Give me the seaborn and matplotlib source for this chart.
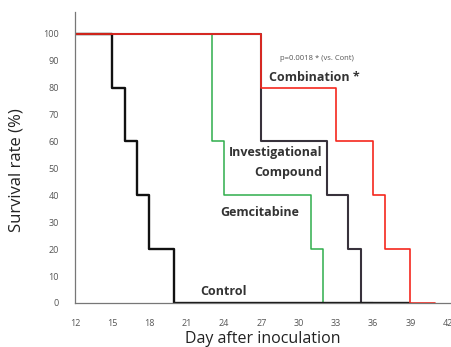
import matplotlib
matplotlib.use("Agg")
import matplotlib.pyplot as plt
import seaborn as sns
import pandas as pd

# -------------------------------
# Data
# -------------------------------
control_days = [12, 15, 16, 17, 18, 20, 39]
control_surv = [100, 80, 60, 40, 20, 0, 0]

gem_days = [12, 23, 24, 31, 32, 33]
gem_surv = [100, 60, 40, 20, 0, 0]

inv_days = [12, 27, 32.3, 34, 35, 36]
inv_surv = [100, 60, 40, 20, 0, 0]

combo_days = [12, 27, 33, 36, 37, 39, 41]
combo_surv = [100, 80, 60, 40, 20, 0, 0]

x_ticks = [12, 15, 18, 21, 24, 27, 30, 33, 36, 39, 42]
y_ticks = [0, 10, 20, 30, 40, 50, 60, 70, 80, 90, 100]

sns.set_style("white")
plt.rcParams['font.family'] = ['Open Sans', 'DejaVu Sans']

fig = plt.figure(figsize=(4.51, 3.47), dpi=100)
ax = fig.add_axes([0.166, 0.127, 0.832, 0.838])

series = [
    (gem_days, gem_surv, '#2fae4b', 1.1),
    (inv_days, inv_surv, '#38323c', 1.5),
    (control_days, control_surv, '#111111', 1.7),
    (combo_days, combo_surv, '#f5281e', 1.2),
]
for days, surv, col, lw in series:
    df = pd.DataFrame({'day': days, 'surv': surv})
    sns.lineplot(data=df, x='day', y='surv', ax=ax, color=col,
                 linewidth=lw, drawstyle='steps-post', estimator=None)

ax.set_xlim(12, 42.2)
ax.set_ylim(0, 108)
ax.set_xticks(x_ticks)
ax.set_yticks(y_ticks)
ax.tick_params(axis='both', direction='inout', length=5, width=0.8,
               color='#777777', labelsize=6.5, labelcolor='#555555')
ax.tick_params(axis='y', pad=9)
ax.tick_params(axis='x', pad=9)

for s in ['top', 'right']:
    ax.spines[s].set_visible(False)
for s in ['left', 'bottom']:
    ax.spines[s].set_color('#777777')
    ax.spines[s].set_linewidth(0.9)

ax.set_xlabel("Day after inoculation", fontsize=11.5, color='#222222', labelpad=2)
ax.set_ylabel("Survival rate (%)", fontsize=12, color='#222222')
ax.yaxis.set_label_coords(-0.135, 0.455)

# annotations
txt = dict(color='#333333', fontweight='bold', va='center')
ax.text(28.5, 90.7, "p=0.0018 * (vs. Cont)", fontsize=5.5, color='#555555', va='center')
ax.text(27.6, 83.7, "Combination *", fontsize=9, ha='left', **txt)
ax.text(31.9, 56, "Investigational", fontsize=9, ha='right', **txt)
ax.text(31.9, 48.5, "Compound", fontsize=9, ha='right', **txt)
ax.text(23.7, 33.7, "Gemcitabine", fontsize=9, ha='left', **txt)
ax.text(22.1, 4.4, "Control", fontsize=9, ha='left', **txt)

plt.savefig("out.png", dpi=100)
